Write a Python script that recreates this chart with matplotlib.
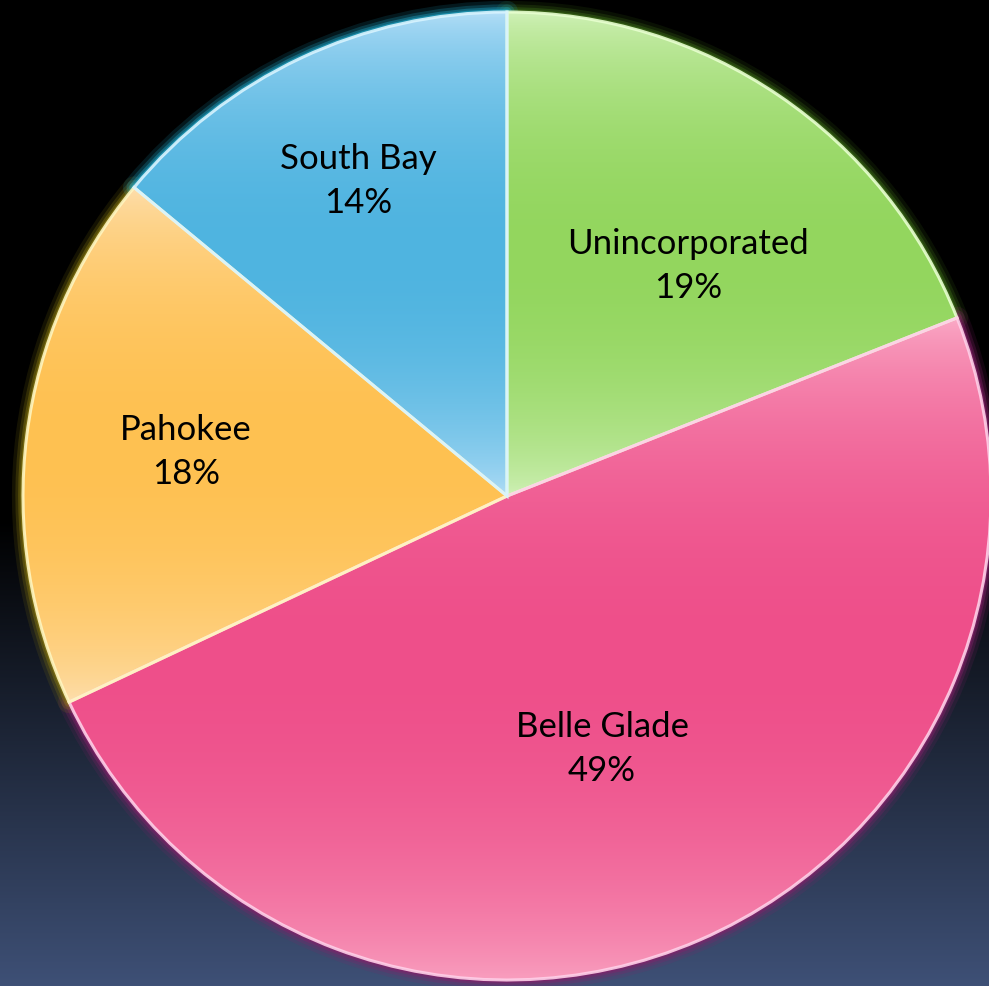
import numpy as np
import matplotlib
matplotlib.use('Agg')
import matplotlib.pyplot as plt
from matplotlib.colors import to_rgb
from matplotlib.patches import Wedge

# ---- data ----
labels = ['Unincorporated', 'Belle Glade', 'Pahokee', 'South Bay']
values = [19, 49, 18, 14]

# ---- styles ----
light_cols = ['#D3F2BC', '#FBB0CA', '#FDE0B2', '#B8E0F8']
mid_cols = ['#93D65E', '#EE4F8A', '#FFC151', '#4FB4E0']
glow_cols = ['#3E6E18', '#85206A', '#8A7A10', '#1FA6C8']
edge_cols = ['#E8FFD0', '#FFD0E8', '#FFF6C0', '#D8F4FF']
label_dist = [0.605, 0.558, 0.67, 0.72]
label_shift = [-4.0, -2.8, -0.6, 0.0]

W, H = 989, 986
fig = plt.figure(figsize=(W / 100, H / 100), dpi=100)
ax = fig.add_axes([0, 0, 1, 1])

# background gradient
ys = np.linspace(0, H, 500)[:, None]
t = np.clip((ys - 520) / (H - 520), 0, 1)
bottom = np.array([62, 80, 118]) / 255
bg = t[..., None] * bottom[None, None, :]
ax.imshow(bg, extent=(0, W, 0, H), origin='upper', aspect='auto', zorder=0)

cx, cy, R = 507, H - 496, 484
wedges, _ = ax.pie(values, startangle=90, counterclock=False, center=(cx, cy),
                   radius=R, frame=True,
                   wedgeprops=dict(facecolor='none', linewidth=0))

for i, w in enumerate(wedges):
    th1, th2 = w.theta1, w.theta2
    # glow
    for lw, a in [(16, 0.15), (11, 0.25), (7, 0.4), (4, 0.6)]:
        g = Wedge((cx, cy), R, th1, th2, facecolor='none', edgecolor=glow_cols[i],
                  linewidth=lw, alpha=a, zorder=1, joinstyle='round')
        ax.add_patch(g)
    # gradient fill
    pts = w.get_patch_transform().transform(w.get_path().vertices)
    y0, y1 = pts[:, 1].min(), pts[:, 1].max()
    x0, x1 = pts[:, 0].min(), pts[:, 0].max()
    s = np.linspace(0, 1, 300)[:, None]
    f = np.sin(np.pi * s) ** 0.6
    lc, mc = np.array(to_rgb(light_cols[i])), np.array(to_rgb(mid_cols[i]))
    img = lc[None, None, :] + (mc - lc)[None, None, :] * f[..., None]
    im = ax.imshow(img, extent=(x0, x1, y0, y1), origin='upper', aspect='auto', zorder=2)
    clip = Wedge((cx, cy), R, th1, th2, facecolor='none', edgecolor='none')
    ax.add_patch(clip)
    im.set_clip_path(clip)
    # highlight edge
    hl = Wedge((cx, cy), R, th1, th2, facecolor='none', edgecolor=edge_cols[i],
               linewidth=2.2, alpha=0.9, zorder=3)
    ax.add_patch(hl)
    # label
    mid = np.deg2rad((th1 + th2) / 2 + label_shift[i])
    lx = cx + R * label_dist[i] * np.cos(mid)
    ly = cy + R * label_dist[i] * np.sin(mid)
    ax.text(lx, ly, f'{labels[i]}\n{values[i]}%', ha='center', va='center',
            fontsize=25, family=['Lato', 'DejaVu Sans'], color='black',
            linespacing=1.45, zorder=5)

ax.set_xlim(0, W)
ax.set_ylim(0, H)
ax.set_aspect('auto')
ax.axis('off')
fig.savefig('out.png', dpi=100, facecolor='black')
